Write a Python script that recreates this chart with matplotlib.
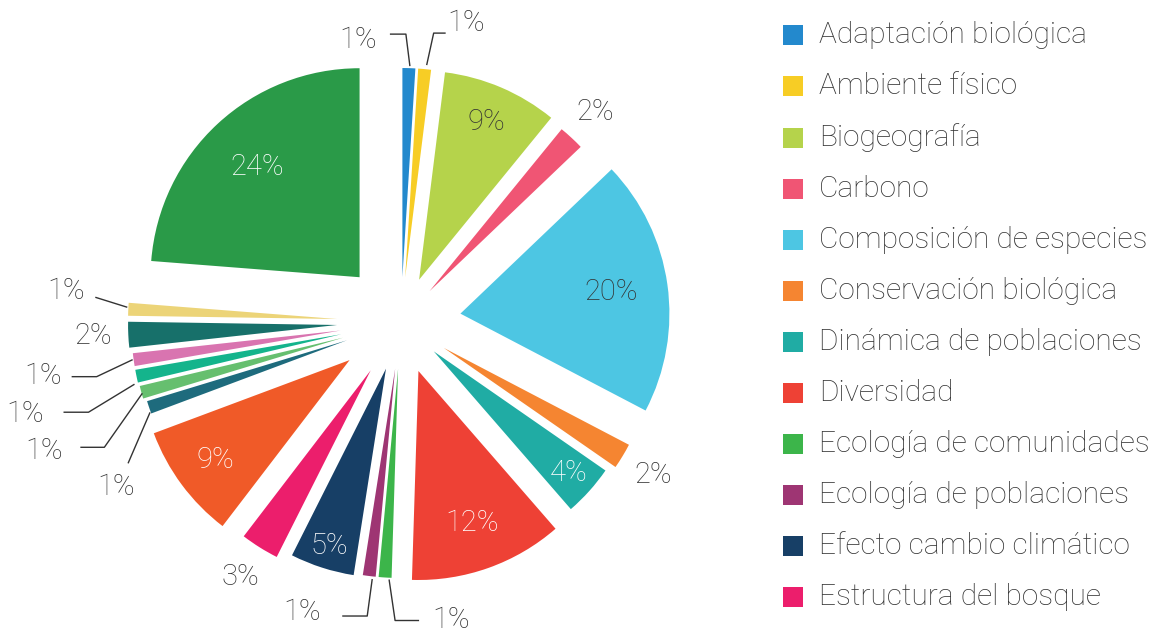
import matplotlib
matplotlib.use("Agg")
import matplotlib.pyplot as plt
from matplotlib import font_manager
import numpy as np

# legend entries (only the first 12 slices are named in the original)
legend_names = ["Adaptación biológica", "Ambiente físico", "Biogeografía", "Carbono",
                "Composición de especies", "Conservación biológica",
                "Dinámica de poblaciones", "Diversidad", "Ecología de comunidades",
                "Ecología de poblaciones", "Efecto cambio climático",
                "Estructura del bosque"]

# slice shares (%) clockwise from 12 o'clock
shares = [1, 1, 9, 2, 20, 2, 4, 12, 1, 1, 5, 3, 9, 1, 1, 1, 1, 2, 1, 24]

colors = ["#2389cd", "#f7cd25", "#b5d34b", "#f05574", "#4dc6e3", "#f58531",
          "#20aca4", "#ee4135", "#3cb54a", "#9e3573", "#173f66", "#ec1e6c",
          "#f05a28", "#1e6b7d", "#66bf6f", "#14b48c", "#d974b0", "#17706a",
          "#ecd478", "#2a9a48"]

# how far each slice is pulled out from the centre (pixels)
explode_px = [45, 45, 46, 42, 60, 50, 44, 52, 47, 47, 49, 57, 64, 57, 60, 61, 61, 64, 64, 61]

W, H = 1163, 637
R = 209
TXT = "#333333"

installed = {f.name for f in font_manager.fontManager.ttflist}
pct_font = ["Roboto", "DejaVu Sans"]
if "Liberation Sans Narrow" in installed:
    leg_font, leg_size = ["Liberation Sans Narrow", "DejaVu Sans"], 22
else:
    leg_font, leg_size = ["Roboto", "DejaVu Sans"], 21.5

fig = plt.figure(figsize=(W / 100, H / 100), dpi=100)
ax = fig.add_axes([0, 0, 1, 1])

wedges, _ = ax.pie(shares, colors=colors, startangle=90, counterclock=False,
                   radius=R, center=(401, H - 322), explode=explode_px,
                   wedgeprops=dict(linewidth=0))
ax.set_xlim(0, W)
ax.set_ylim(0, H)
ax.set_aspect("equal")
ax.axis("off")

# labels inside slices: (fraction of radius, colour)
inside = {2: (0.82, TXT), 4: (0.73, TXT), 6: (0.87, "white"), 7: (0.77, "white"),
          10: (0.89, "white"), 12: (0.80, "white"), 19: (0.72, "white")}
# labels just outside, no leader line
outside = [3, 5, 11, 17]
# labels with leader lines: line points and text offset relative to the arc midpoint
leaders = {
    0: ([(1, 2), (-3, 34), (-19, 34)], (-32, 28), "right"),
    1: ([(2, 4), (9, 36), (21, 36)], (23, 46), "left"),
    8: ([(4, -2), (10, -43), (34, -43)], (47, -42), "left"),
    9: ([(3, -3), (-2, -40), (-27, -40)], (-48, -36), "right"),
    18: ([(-1, 2), (-33, 12)], (-43, 18), "right"),
    16: ([(-1, 0), (-37, -17), (-62, -17)], (-72, -16), "right"),
    15: ([(-2, -8), (-48, -36), (-73, -36)], (-93, -38), "right"),
    14: ([(1, -1), (-37, -55), (-61, -55)], (-78, -59), "right"),
    13: ([(1, -5), (-21, -56)], (-33, -80), "center"),
}

pct_kw = dict(fontsize=21, family=pct_font, fontweight="light")

for i, w in enumerate(wedges):
    mid = np.deg2rad((w.theta1 + w.theta2) / 2)
    ux, uy = np.cos(mid), np.sin(mid)
    cx, cy = w.center
    lab = f"{shares[i]}%"
    if i in inside:
        f, col = inside[i]
        ax.text(cx + f * R * ux, cy + f * R * uy, lab, ha="center", va="center",
                color=col, **pct_kw)
    elif i in outside:
        ax.text(cx + 1.17 * R * ux, cy + 1.17 * R * uy, lab, ha="center", va="center",
                color=TXT, **pct_kw)
    elif i in leaders:
        pts, (tx, ty), ha = leaders[i]
        ax0, ay0 = cx + R * ux, cy + R * uy
        ax.plot([ax0 + p[0] for p in pts], [ay0 + p[1] for p in pts],
                color=TXT, lw=1.0, solid_capstyle="butt")
        ax.text(ax0 + tx, ay0 + ty, lab, ha=ha, va="center", color=TXT, **pct_kw)

# legend
for k, name in enumerate(legend_names):
    yc = H - (35.3 + k * 51.1)
    ax.scatter([792.5], [yc], marker="s", s=15.1 ** 2, color=colors[k], linewidths=0)
    ax.text(819, yc - 8, name, ha="left", va="baseline", color=TXT,
            fontsize=leg_size, family=leg_font, fontweight="light")

fig.savefig("out.png", dpi=100)
